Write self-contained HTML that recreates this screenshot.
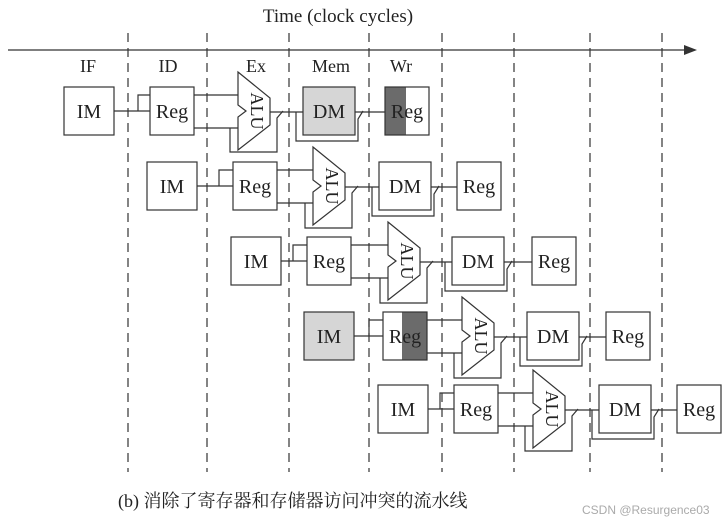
<!DOCTYPE html>
<html><head><meta charset="utf-8"><style>
html,body{margin:0;padding:0;background:#fff;}
svg{display:block;}
text{font-family:"Liberation Serif","Noto Serif CJK SC",serif;fill:#222;}
.s{fill:none;stroke:#333;stroke-width:1.2;}
.w{fill:#fff;stroke:#333;stroke-width:1.2;}
.alu{font-size:18px;}
</style></head><body>
<svg width="725" height="524" viewBox="0 0 725 524" xmlns="http://www.w3.org/2000/svg">
<text x="338" y="22" font-size="19" text-anchor="middle">Time (clock cycles)</text>
<line x1="8" y1="50" x2="690" y2="50" stroke="#333" stroke-width="1.3"/>
<polygon points="697,50 684,45 684,55" fill="#333"/>
<g stroke="#333" stroke-width="1.2" stroke-dasharray="9,6">
<line x1="128" y1="33" x2="128" y2="472"/><line x1="207" y1="33" x2="207" y2="472"/>
<line x1="289" y1="33" x2="289" y2="472"/><line x1="369" y1="33" x2="369" y2="472"/>
<line x1="442" y1="33" x2="442" y2="472"/><line x1="514" y1="33" x2="514" y2="472"/>
<line x1="590" y1="33" x2="590" y2="472"/><line x1="662" y1="33" x2="662" y2="472"/>
</g>
<g font-size="18" text-anchor="middle">
<text x="88" y="72">IF</text><text x="168" y="72">ID</text><text x="256" y="72">Ex</text><text x="331" y="72">Mem</text><text x="401" y="72">Wr</text>
</g>

<!-- Row 1 -->
<g transform="translate(64,87)">
<rect class="s" x="0" y="0" width="50" height="48"/>
<path class="s" d="M50 24 H86 M74 24 V8 H86"/>
<rect class="s" x="86" y="0" width="44" height="48"/>
<path class="s" d="M130 8 H174 M130 41 H174"/>
<path class="s" d="M166 41 V65 H213 V31 L219 24"/>
<polygon class="w" points="174,-15 206,11 206,38 174,63 174,30 182,24 174,18"/>
<path class="s" d="M206 25 H239"/>
<path class="s" d="M232 25 V54 H294 V32 L299 24"/>
<rect x="239" y="0" width="52" height="48" fill="#d6d6d6" stroke="#333" stroke-width="1.2"/>
<path class="s" d="M291 25 H321"/>
<rect x="321" y="0" width="21" height="48" fill="#6b6b6b"/>
<rect class="s" x="321" y="0" width="44" height="48"/>
<g font-size="20" text-anchor="middle">
<text x="25" y="31">IM</text><text x="108" y="31">Reg</text><text x="265" y="31">DM</text><text x="343" y="31">Reg</text>
</g>
<text class="alu" transform="translate(192,24) rotate(90)" text-anchor="middle" dy="5">ALU</text>
</g>

<!-- Row 2 -->
<g transform="translate(147,162)">
<rect class="s" x="0" y="0" width="50" height="48"/>
<path class="s" d="M50 24 H86 M72 24 V8 H86"/>
<rect class="s" x="86" y="0" width="44" height="48"/>
<path class="s" d="M130 8 H166 M130 41 H166"/>
<path class="s" d="M158 41 V66 H205 V31 L211 24"/>
<polygon class="w" points="166,-15 198,11 198,38 166,63 166,30 174,24 166,18"/>
<path class="s" d="M198 25 H232"/>
<path class="s" d="M225 25 V54 H287 V32 L292 24"/>
<rect class="s" x="232" y="0" width="52" height="48"/>
<path class="s" d="M284 25 H310"/>
<rect class="s" x="310" y="0" width="44" height="48"/>
<g font-size="20" text-anchor="middle">
<text x="25" y="31">IM</text><text x="108" y="31">Reg</text><text x="258" y="31">DM</text><text x="332" y="31">Reg</text>
</g>
<text class="alu" transform="translate(184,24) rotate(90)" text-anchor="middle" dy="5">ALU</text>
</g>

<!-- Row 3 -->
<g transform="translate(231,237)">
<rect class="s" x="0" y="0" width="50" height="48"/>
<path class="s" d="M50 24 H76 M62 24 V8 H76"/>
<rect class="s" x="76" y="0" width="44" height="48"/>
<path class="s" d="M120 8 H157 M120 41 H157"/>
<path class="s" d="M149 41 V66 H196 V31 L202 24"/>
<polygon class="w" points="157,-15 189,11 189,38 157,63 157,30 165,24 157,18"/>
<path class="s" d="M189 25 H221"/>
<path class="s" d="M214 25 V54 H276 V32 L281 24"/>
<rect class="s" x="221" y="0" width="52" height="48"/>
<path class="s" d="M273 25 H301"/>
<rect class="s" x="301" y="0" width="44" height="48"/>
<g font-size="20" text-anchor="middle">
<text x="25" y="31">IM</text><text x="98" y="31">Reg</text><text x="247" y="31">DM</text><text x="323" y="31">Reg</text>
</g>
<text class="alu" transform="translate(175,24) rotate(90)" text-anchor="middle" dy="5">ALU</text>
</g>

<!-- Row 4 -->
<g transform="translate(304,312)">
<rect x="0" y="0" width="50" height="48" fill="#d6d6d6" stroke="#333" stroke-width="1.2"/>
<path class="s" d="M50 24 H79 M65 24 V8 H79"/>
<rect x="98" y="0" width="25" height="48" fill="#6b6b6b"/>
<rect class="s" x="79" y="0" width="44" height="48"/>
<path class="s" d="M123 8 H158 M123 41 H158"/>
<path class="s" d="M150 41 V66 H197 V31 L203 24"/>
<polygon class="w" points="158,-15 190,11 190,38 158,63 158,30 166,24 158,18"/>
<path class="s" d="M190 25 H223"/>
<path class="s" d="M216 25 V54 H278 V32 L283 24"/>
<rect class="s" x="223" y="0" width="52" height="48"/>
<path class="s" d="M275 25 H302"/>
<rect class="s" x="302" y="0" width="44" height="48"/>
<g font-size="20" text-anchor="middle">
<text x="25" y="31">IM</text><text x="101" y="31">Reg</text><text x="249" y="31">DM</text><text x="324" y="31">Reg</text>
</g>
<text class="alu" transform="translate(176,24) rotate(90)" text-anchor="middle" dy="5">ALU</text>
</g>

<!-- Row 5 -->
<g transform="translate(378,385)">
<rect class="s" x="0" y="0" width="50" height="48"/>
<path class="s" d="M50 24 H76 M62 24 V8 H76"/>
<rect class="s" x="76" y="0" width="44" height="48"/>
<path class="s" d="M120 8 H155 M120 41 H155"/>
<path class="s" d="M147 41 V66 H194 V31 L200 24"/>
<polygon class="w" points="155,-15 187,11 187,38 155,63 155,30 163,24 155,18"/>
<path class="s" d="M187 25 H221"/>
<path class="s" d="M214 25 V54 H276 V32 L281 24"/>
<rect class="s" x="221" y="0" width="52" height="48"/>
<path class="s" d="M273 25 H299"/>
<rect class="s" x="299" y="0" width="44" height="48"/>
<g font-size="20" text-anchor="middle">
<text x="25" y="31">IM</text><text x="98" y="31">Reg</text><text x="247" y="31">DM</text><text x="321" y="31">Reg</text>
</g>
<text class="alu" transform="translate(173,24) rotate(90)" text-anchor="middle" dy="5">ALU</text>
</g>

<text x="118" y="507" font-size="18">(b) 消除了寄存器和存储器访问冲突的流水线</text>
<text x="582" y="514" font-size="12" style="font-family:'Liberation Sans',sans-serif;fill:#aaa">CSDN @Resurgence03</text>
</svg>
</body></html>
